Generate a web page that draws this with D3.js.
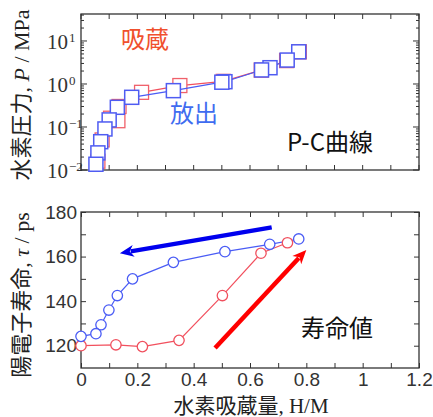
<!DOCTYPE html>
<html>
<head>
<meta charset="utf-8">
<script src="https://d3js.org/d3.v7.min.js"></script>
<style>
    body { margin: 0; background: #fff; }
    .cjk { font-family: "Noto Sans CJK JP", sans-serif; }
    .tick text { font-family: "Liberation Sans", Arial, sans-serif; font-size: 19px; fill: #333; }
</style>
</head>
<body>
<script>
    // P-C curve (top panel): hydrogen content H/M vs pressure MPa
    var pcAbsorb = [[0.06, 0.016], [0.075, 0.05], [0.105, 0.16], [0.131, 0.14], [0.135, 0.3],
        [0.215, 0.64], [0.351, 0.92], [0.505, 1.15], [0.64, 2.1], [0.73, 3.5], [0.775, 5.6]];
    var pcDesorb = [[0.773, 5.6], [0.732, 3.6], [0.671, 2.39], [0.641, 2.12], [0.511, 1.13],
        [0.5, 1.1], [0.328, 0.70], [0.18, 0.49], [0.129, 0.287], [0.1, 0.146],
        [0.085, 0.09], [0.07, 0.0455], [0.06, 0.025], [0.053, 0.0136]];

    // positron lifetime (bottom panel): H/M vs lifetime ps
    var lifeAbsorb = [[0, 120], [0.124, 120.4], [0.218, 119.6], [0.348, 122.4], [0.502, 142.5],
        [0.639, 161.5], [0.733, 166.2], [0.773, 167.9]];
    var lifeDesorb = [[0.773, 167.9], [0.670, 165.5], [0.511, 162.2], [0.328, 157.4], [0.183, 150],
        [0.129, 142.5], [0.099, 136], [0.071, 129.4], [0.053, 125.4], [0, 124.2]];

    var xTicks = [0, 0.2, 0.4, 0.6, 0.8, 1, 1.2];
    var lifeTicks = [120, 140, 160, 180];
    var pTicks = [0.01, 0.1, 1, 10];
    var pExp = ["\u22122", "\u22121", "0", "1"];

    var w = 433, h = 417;
    var svg = d3.select("body").append("svg").attr("width", w).attr("height", h);

    var x = d3.scaleLinear().domain([0, 1.2]).range([81, 419]);
    var yP = d3.scaleLog().domain([0.01, 42.4]).range([170, 14]);
    var yL = d3.scaleLinear().domain([110, 180]).range([368, 212]);

    var frameColor = "#333";
    var redLine = "#f2505e", blueLine = "#4a5cf5";
    var serif = "'Liberation Serif', 'Times New Roman', serif";

    // ---------- top panel ----------
    var topG = svg.append("g");
    // x ticks every 0.1, inward on top and bottom
    var minorX = d3.range(0, 12.5).map(function (d) { return d / 10; });
    topG.selectAll(".xtb").data(minorX).enter().append("line")
        .attr("x1", function (d) { return x(d); }).attr("x2", function (d) { return x(d); })
        .attr("y1", 170).attr("y2", 165).attr("stroke", frameColor);
    topG.selectAll(".xtt").data(minorX).enter().append("line")
        .attr("x1", function (d) { return x(d); }).attr("x2", function (d) { return x(d); })
        .attr("y1", 14).attr("y2", 19).attr("stroke", frameColor);
    // log ticks
    var logTicks = yP.ticks().filter(function (d) { return d >= 0.01 && d <= 42.4; });
    logTicks.forEach(function (d) {
        var major = Math.abs(Math.log10(d) - Math.round(Math.log10(d))) < 1e-6;
        var len = major ? 6 : 3;
        topG.append("line").attr("x1", 81).attr("x2", 81 + len)
            .attr("y1", yP(d)).attr("y2", yP(d)).attr("stroke", frameColor);
        topG.append("line").attr("x1", 419).attr("x2", 419 - len)
            .attr("y1", yP(d)).attr("y2", yP(d)).attr("stroke", frameColor);
    });
    topG.append("rect").attr("x", 81).attr("y", 14).attr("width", 338).attr("height", 156)
        .attr("fill", "none").attr("stroke", frameColor).attr("stroke-width", 1.3);

    // tick labels 10^n
    pTicks.forEach(function (d, i) {
        topG.append("text").attr("x", 68).attr("y", yP(d) + 8)
            .attr("text-anchor", "end")
            .style("font-family", serif)
            .style("font-size", "21px").attr("fill", "#333").text("10");
        topG.append("text").attr("x", 69).attr("y", yP(d) + 1)
            .style("font-family", serif)
            .style("font-size", "13px").attr("fill", "#333").text(pExp[i]);
    });

    var pLine = d3.line().x(function (d) { return x(d[0]); }).y(function (d) { return yP(d[1]); });
    var sq = 14;

    topG.append("path").datum(pcAbsorb).attr("d", pLine)
        .attr("fill", "none").attr("stroke", redLine).attr("stroke-width", 1.2);
    topG.selectAll(".sqa").data(pcAbsorb).enter().append("rect")
        .attr("x", function (d) { return x(d[0]) - sq / 2; })
        .attr("y", function (d) { return yP(d[1]) - sq / 2; })
        .attr("width", sq).attr("height", sq)
        .attr("fill", "#fff").attr("stroke", "#f0606a").attr("stroke-width", 1.3);

    topG.append("path").datum(pcDesorb).attr("d", pLine)
        .attr("fill", "none").attr("stroke", blueLine).attr("stroke-width", 1.2);
    topG.selectAll(".sqd").data(pcDesorb).enter().append("rect")
        .attr("x", function (d) { return x(d[0]) - sq / 2; })
        .attr("y", function (d) { return yP(d[1]) - sq / 2; })
        .attr("width", sq).attr("height", sq)
        .attr("fill", "#fff").attr("stroke", "#4f5cf2").attr("stroke-width", 1.5);

    topG.append("text").attr("class", "cjk").attr("x", 121).attr("y", 48)
        .style("font-size", "24px").attr("fill", "#f0502e").text("吸蔵");
    topG.append("text").attr("class", "cjk").attr("x", 170).attr("y", 122)
        .style("font-size", "24px").attr("fill", "#3f6cf0").text("放出");
    topG.append("text").attr("class", "cjk").attr("x", 287).attr("y", 151)
        .style("font-size", "24px").attr("fill", "#111").text("P-C曲線");

    // ---------- bottom panel ----------
    var bot = svg.append("g");
    bot.append("g").attr("transform", "translate(0,368)")
        .call(d3.axisBottom(x).tickValues(minorX).tickSize(-5).tickPadding(5)
            .tickFormat(function (d) { return xTicks.some(function (t) { return Math.abs(t - d) < 1e-9; }) ? d3.format("~g")(d) : ""; }))
        .call(function (g) { g.select(".domain").remove(); g.selectAll("line").attr("stroke", frameColor); });
    bot.append("g").attr("transform", "translate(0,212)")
        .call(d3.axisTop(x).tickValues(minorX).tickSize(-5).tickFormat(""))
        .call(function (g) { g.select(".domain").remove(); g.selectAll("line").attr("stroke", frameColor); });
    bot.append("g").attr("transform", "translate(81,0)")
        .call(d3.axisLeft(yL).tickValues(d3.range(120, 181, 10)).tickSize(-5).tickPadding(4)
            .tickFormat(function (d) { return lifeTicks.indexOf(d) >= 0 ? d : ""; }))
        .call(function (g) { g.select(".domain").remove(); g.selectAll("line").attr("stroke", frameColor); });
    bot.append("g").attr("transform", "translate(419,0)")
        .call(d3.axisRight(yL).tickValues(d3.range(120, 181, 10)).tickSize(-5).tickFormat(""))
        .call(function (g) { g.select(".domain").remove(); g.selectAll("line").attr("stroke", frameColor); });
    bot.append("rect").attr("x", 81).attr("y", 212).attr("width", 338).attr("height", 156)
        .attr("fill", "none").attr("stroke", frameColor).attr("stroke-width", 1.3);

    var lLine = d3.line().x(function (d) { return x(d[0]); }).y(function (d) { return yL(d[1]); });

    bot.append("path").datum(lifeAbsorb).attr("d", lLine)
        .attr("fill", "none").attr("stroke", redLine).attr("stroke-width", 1.2);
    bot.append("path").datum(lifeDesorb).attr("d", lLine)
        .attr("fill", "none").attr("stroke", blueLine).attr("stroke-width", 1.2);
    bot.selectAll(".ca").data(lifeAbsorb.slice(0, -1)).enter().append("circle")
        .attr("cx", function (d) { return x(d[0]); }).attr("cy", function (d) { return yL(d[1]); })
        .attr("r", 5.2).attr("fill", "#fff").attr("stroke", "#f0505e").attr("stroke-width", 1.3);
    bot.selectAll(".cd").data(lifeDesorb).enter().append("circle")
        .attr("cx", function (d) { return x(d[0]); }).attr("cy", function (d) { return yL(d[1]); })
        .attr("r", 5.2).attr("fill", "#fff").attr("stroke", "#4a5cf5").attr("stroke-width", 1.3);

    // arrows
    function arrow(g, x0, y0, x1, y1, color) {
        var dx = x1 - x0, dy = y1 - y0, len = Math.sqrt(dx * dx + dy * dy);
        var ux = dx / len, uy = dy / len, head = 14, half = 6;
        var bx = x1 - ux * head, by = y1 - uy * head;
        g.append("line").attr("x1", x0).attr("y1", y0).attr("x2", bx + ux * 3).attr("y2", by + uy * 3)
            .attr("stroke", color).attr("stroke-width", 4.5);
        g.append("path").attr("d", "M" + x1 + "," + y1 +
            "L" + (bx - uy * half) + "," + (by + ux * half) +
            "L" + (bx + ux * 4) + "," + (by + uy * 4) +
            "L" + (bx + uy * half) + "," + (by - ux * half) + "Z")
            .attr("fill", color);
    }
    arrow(bot, x(0.677), yL(173.1), x(0.138), yL(161.5), "#0000ee");
    arrow(bot, x(0.476), yL(119), x(0.80), yL(163), "#ff0000");

    bot.append("text").attr("class", "cjk").attr("x", 301).attr("y", 337)
        .style("font-size", "24px").attr("fill", "#111").text("寿命値");

    // ---------- axis titles ----------
    var t1 = svg.append("text").attr("transform", "translate(29,95) rotate(-90)")
        .attr("text-anchor", "middle").attr("fill", "#222").style("font-size", "22px");
    t1.append("tspan").attr("class", "cjk").text("水素圧力");
    t1.append("tspan").style("font-family", serif).text(", ");
    t1.append("tspan").style("font-family", serif).style("font-style", "italic").text("P");
    t1.append("tspan").style("font-family", serif).text(" / MPa");

    var t2 = svg.append("text").attr("transform", "translate(29,295) rotate(-90)")
        .attr("text-anchor", "middle").attr("fill", "#222").style("font-size", "22px");
    t2.append("tspan").attr("class", "cjk").text("陽電子寿命");
    t2.append("tspan").style("font-family", serif).text(", ");
    t2.append("tspan").style("font-family", serif).style("font-style", "italic").text("τ");
    t2.append("tspan").style("font-family", serif).text(" / ps");

    var t3 = svg.append("text").attr("x", 251).attr("y", 413)
        .attr("text-anchor", "middle").attr("fill", "#222").style("font-size", "21px");
    t3.append("tspan").attr("class", "cjk").text("水素吸蔵量");
    t3.append("tspan").style("font-family", serif).text(", H/M");
</script>
</body>
</html>
